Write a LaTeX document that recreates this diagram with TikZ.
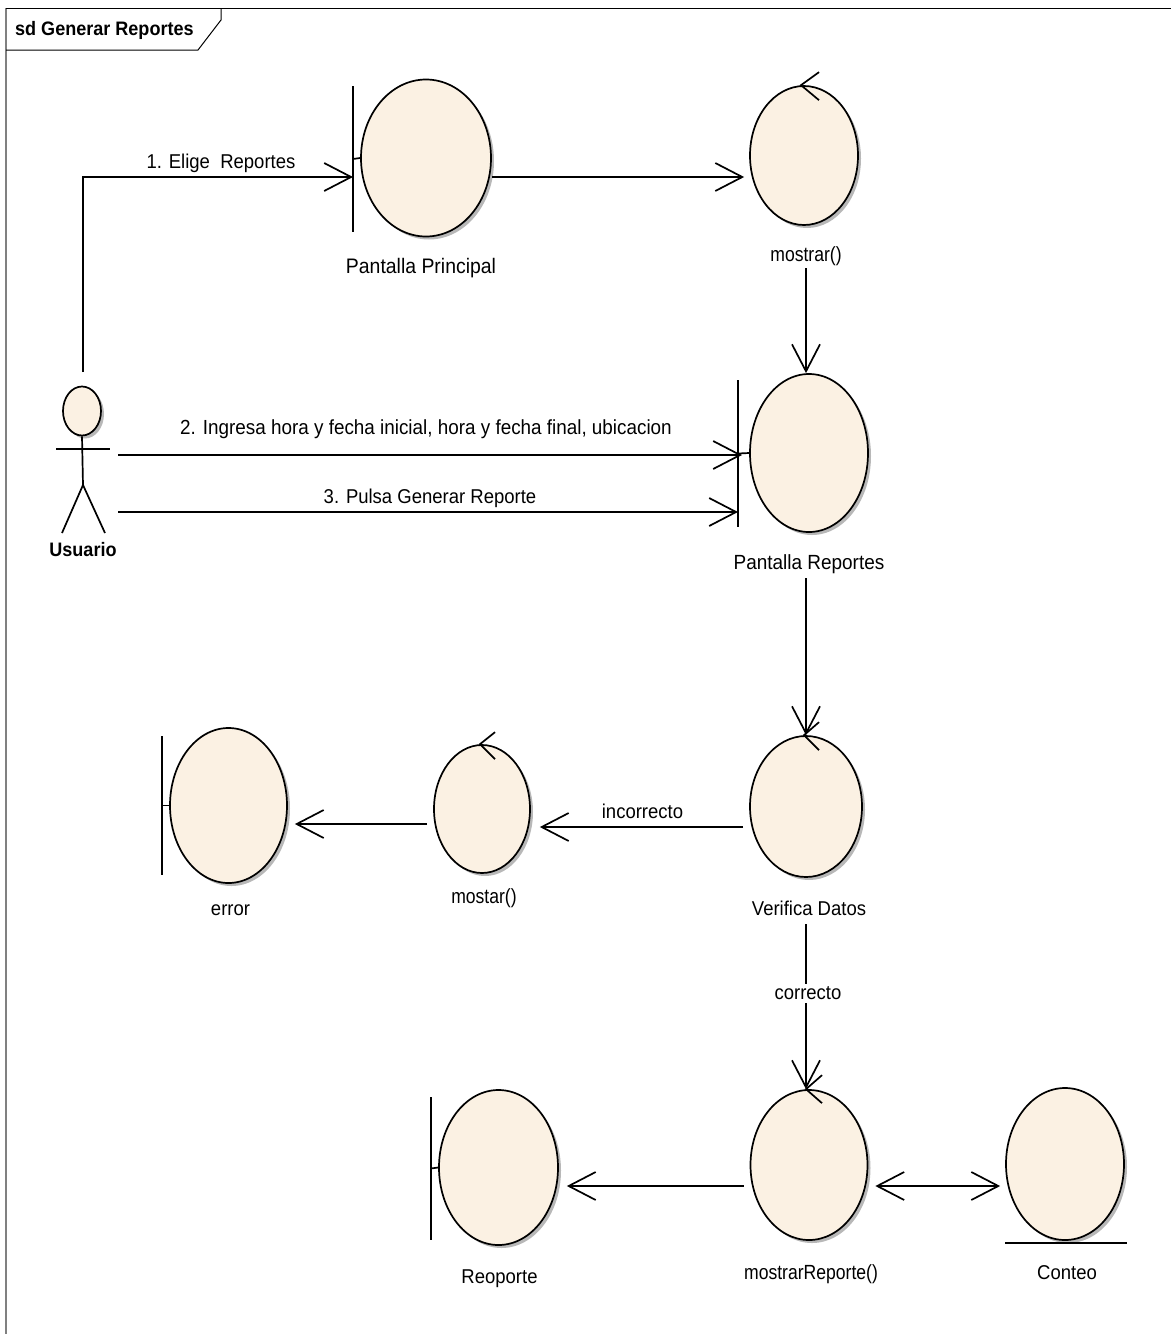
\documentclass[tikz,border=0pt]{standalone}
\usepackage{fontspec}
\setmainfont{Liberation Sans}[FakeStretch=0.925]
\newfontfamily\estrecha{Liberation Sans}[FakeStretch=0.857]
\usepackage{xcolor}
\usetikzlibrary{shapes.geometric, arrows.meta, positioning, shadows}
\definecolor{crema}{HTML}{FBF1E3}
\definecolor{marco}{HTML}{808080}
\tikzstyle{objeto} = [ellipse, draw, fill=crema, line width=1.7pt, inner sep=0pt, drop shadow={shadow xshift=3pt, shadow yshift=-3pt, fill=black!28, opacity=1}]
\tikzstyle{barra} = [rectangle, fill=black, inner sep=0pt, minimum width=1.6pt]
\tikzstyle{etiqueta} = [inner sep=0pt, text height=15pt, text depth=4pt, font=\fontsize{20}{24}\selectfont]
\tikzstyle{metodo} = [etiqueta, font=\estrecha\fontsize{20.5}{24}\selectfont]
\tikzstyle{linea} = [line width=1.7pt]
\tikzstyle{arrow} = [linea, -{Straight Barb[length=27pt, width=28pt, line width=1.7pt]}]
\tikzstyle{doble} = [linea, {Straight Barb[length=27pt, width=28pt, line width=1.7pt]}-{Straight Barb[length=27pt, width=28pt, line width=1.7pt]}]

\begin{document}
\begin{tikzpicture}[x=1pt, y=-1pt]
\useasboundingbox (0,0) rectangle (1171,1334);

% Frame
\node[inner sep=0pt, anchor=west, font=\fontsize{19.5}{24}\selectfont\bfseries] (titulo) at (15,30) {sd Generar Reportes};
\draw[marco, line width=1.4pt] (6,1334) -- (6,8);
\draw[linea, line width=1pt] (6,8) -- (1171,8);
\draw[linea, line width=1pt] (6,50) -- (198,50) -- (221,20) -- (221,8);

% Actor
\node[objeto, minimum width=38pt, minimum height=49pt] (usuario) at (82,411) {};
\coordinate (cadera) at (83,485);
\draw[linea] (usuario.south) -- (cadera);
\draw[linea, line width=2pt] ([xshift=-26pt, yshift=-13pt]usuario.south) -- ([xshift=28pt, yshift=-13pt]usuario.south);
\draw[linea] (62,533) -- (cadera) -- (105,533);
\node[inner sep=0pt, font=\fontsize{19.5}{24}\selectfont\bfseries] (lblUsuario) at (83,550) {Usuario};

% Upper row
\node[objeto, minimum width=130pt, minimum height=157pt] (principal) at (426,158) {};
\node[barra, minimum height=146pt] (barPrincipal) at (353,159) {};
\draw[linea] (barPrincipal) -- (principal.west);
\node[etiqueta, below=21pt of principal, xshift=-5pt, font=\fontsize{21}{24}\selectfont] (lblPrincipal) {Pantalla Principal};
\node[objeto, minimum width=108pt, minimum height=139pt] (mostrar) at (804,155.5) {};
\node[metodo, below=20pt of mostrar, xshift=2pt] (lblMostrar) {mostrar()};
\draw[linea] ([shift={(15pt,13pt)}]mostrar.north) -- ([xshift=-3pt]mostrar.north) -- ([shift={(15pt,-15pt)}]mostrar.north);

% Pantalla Reportes
\node[objeto, minimum width=118pt, minimum height=158pt] (reportes) at (809,453) {};
\node[barra, minimum height=147pt] (barReportes) at (738,453.5) {};
\draw[linea] (barReportes) -- (reportes.west);
\node[etiqueta, below=21pt of reportes, font=\fontsize{20.5}{24}\selectfont] (lblReportes) {Pantalla Reportes};

% Middle row
\node[objeto, minimum width=112pt, minimum height=141pt] (verifica) at (806,806.5) {};
\node[etiqueta, below=22pt of verifica, xshift=3pt] (lblVerifica) {Verifica Datos};
\draw[linea] ([shift={(13pt,13pt)}]verifica.north) -- ([xshift=-2pt]verifica.north) -- ([shift={(13pt,-15pt)}]verifica.north);
\node[objeto, minimum width=96pt, minimum height=128pt] (mostar) at (482,809) {};
\node[metodo, below=14pt of mostar, xshift=2pt] (lblMostar) {mostar()};
\draw[linea] ([shift={(13pt,12pt)}]mostar.north) -- ([xshift=-2pt]mostar.north) -- ([shift={(13pt,-15pt)}]mostar.north);
\node[objeto, minimum width=117pt, minimum height=155pt] (error) at (228.5,805.5) {};
\node[barra, minimum height=139pt] (barError) at (162,805.5) {};
\draw[linea] (barError) -- (error.west);
\node[etiqueta, below=16pt of error, xshift=2pt] (lblError) {error};

% Lower row
\node[objeto, minimum width=119pt, minimum height=155pt] (reoporte) at (498.5,1167.5) {};
\node[barra, minimum height=143pt] (barReoporte) at (431,1168.5) {};
\draw[linea] (barReoporte) -- (reoporte.west);
\node[etiqueta, below=22pt of reoporte, xshift=1pt] (lblReoporte) {Reoporte};
\node[objeto, minimum width=117pt, minimum height=150pt] (mostrarReporte) at (809,1165) {};
\node[metodo, below=23pt of mostrarReporte, xshift=2pt] (lblMostrarReporte) {mostrarReporte()};
\draw[linea] ([shift={(13pt,-14pt)}]mostrarReporte.north) -- ([xshift=-3pt]mostrarReporte.north) -- ([shift={(13pt,14pt)}]mostrarReporte.north);
\node[objeto, minimum width=118pt, minimum height=152pt] (conteo) at (1065,1164) {};
\node[barra, minimum width=122pt, minimum height=2pt] (barConteo) at (1066,1243) {};
\node[etiqueta, below=23pt of conteo, xshift=2pt] (lblConteo) {Conteo};

% Messages from the actor
\draw[arrow] ([shift={(1pt,13.5pt)}]usuario.north) |- ([yshift=-18pt]barPrincipal.center) node[pos=0.75, above=3.5pt, xshift=3pt, etiqueta] (msg1) {1. Elige\ \ Reportes};
\draw[arrow] ([shift={(36pt,-18.65pt)}]usuario.south) -- ([shift={(4pt,-1.5pt)}]barReportes.center) node[midway, above=15.5pt, etiqueta, xshift=-4pt, font=\fontsize{20.4}{24}\selectfont] (msg2) {2. Ingresa hora y fecha inicial, hora y fecha final, ubicacion};
\draw[arrow] ([shift={(36pt,-75.65pt)}]usuario.south) -- ([yshift=-58.5pt]barReportes.center) node[midway, above=3.5pt, etiqueta, xshift=2pt] (msg3) {3. Pulsa Generar Reporte};

% Internal flow
\draw[arrow] ([yshift=-19pt]principal.east) -- ([shift={(-5pt,-21.5pt)}]mostrar.west);
\draw[arrow] ([yshift=-3pt]lblMostrar.south) -- (lblMostrar.south |- reportes.north);
\draw[arrow] ([yshift=-5pt]verifica.north |- lblReportes.south) -- (verifica.north);
\draw[arrow] ([shift={(-6pt,-20.5pt)}]verifica.west) -- ([shift={(9pt,-18pt)}]mostar.east) node[midway, above=4pt, xshift=1pt, etiqueta] (msg4) {incorrecto};
\draw[arrow] ([shift={(-6pt,-15pt)}]mostar.west) -- ([shift={(7pt,-18.5pt)}]error.east);
\draw[arrow] ([yshift=-5pt]verifica.south |- lblVerifica.south) -- (verifica.south |- mostrarReporte.north) node[pos=0.42, fill=white, xshift=2pt, etiqueta] (msg5) {correcto};
\draw[arrow] ([shift={(-6pt,-21pt)}]mostrarReporte.west) -- ([shift={(8pt,-18.5pt)}]reoporte.east);
\draw[doble] ([shift={(7pt,-21pt)}]mostrarReporte.east) -- ([shift={(-5pt,-22pt)}]conteo.west);

\end{tikzpicture}
\end{document}
